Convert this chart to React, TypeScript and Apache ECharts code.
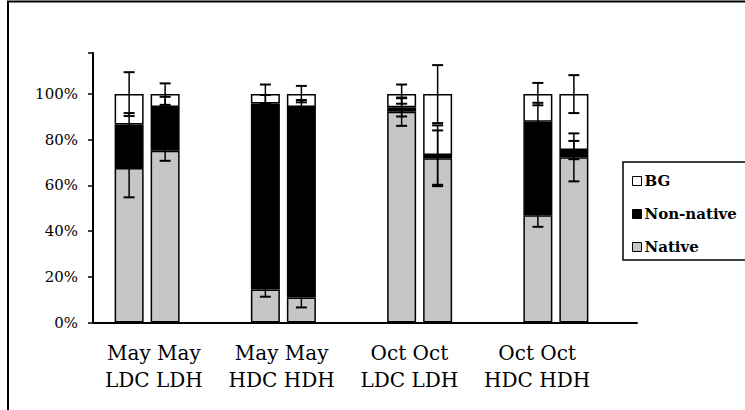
import React, { useEffect, useRef } from "react";
import * as echarts from "echarts";

const groupLabels = ["May May\nLDC LDH", "May May\nHDC HDH", "Oct Oct\nLDC LDH", "Oct Oct\nHDC HDH"];
const barNames = ["May LDC", "May LDH", "May HDC", "May HDH", "Oct LDC", "Oct LDH", "Oct HDC", "Oct HDH"];
const nativeVals = [67.7, 75.2, 14.5, 11.0, 92.3, 71.9, 47.0, 72.3];
const nonNativeVals = [19.0, 19.2, 81.4, 83.4, 1.9, 1.4, 40.9, 3.2];
const bgVals = [13.3, 5.6, 4.1, 5.6, 5.8, 26.7, 12.1, 24.5];
const nativeErr = [12.9, 4.4, 3.2, 4.4, 6.2, 12.2, 5.1, 10.5];
const nonNativeErr = [5.0, 4.4, 3.7, 3.0, 4.0, 13.0, 8.3, 4.0];
const bgErr = [9.6, 4.7, 4.2, 3.6, 4.2, 12.7, 4.9, 8.3];
const yTicks = [0, 20, 40, 60, 80, 100];

const BAR_W = 29;
const BAR_GAP = 7;
const FONT = "'DejaVu Serif', serif";

export default function App() {
  const ref = useRef<HTMLDivElement>(null);
  useEffect(() => {
    if (!ref.current) return;
    const chart = echarts.init(ref.current, null, { renderer: "svg" });
    const even = (a: number[]) => a.filter((_, i) => i % 2 === 0);
    const odd = (a: number[]) => a.filter((_, i) => i % 2 === 1);
    const groupIdx = [0, 1, 2, 3];

    const errData: number[][] = [];
    barNames.forEach((_, i) => {
      const g = Math.floor(i / 2);
      const side = i % 2;
      const t1 = nativeVals[i];
      const t2 = t1 + nonNativeVals[i];
      const t3 = t2 + bgVals[i];
      errData.push([g, side, t1, nativeErr[i]]);
      errData.push([g, side, t2, nonNativeErr[i]]);
      errData.push([g, side, t3, bgErr[i]]);
    });

    const barStyle = (color: string) => ({ color, borderColor: "#000", borderWidth: 1.5 });
    const mk = (name: string, stack: string, data: number[], color: string) => ({
      type: "bar",
      name,
      stack,
      xAxisIndex: 1,
      yAxisIndex: 1,
      barWidth: BAR_W,
      barGap: (BAR_GAP / BAR_W) * 100 + "%",
      data,
      z: 2,
      itemStyle: barStyle(color),
    });

    const NATIVE = "#c6c6c6";
    chart.setOption({
      animation: false,
      graphic: [
        {
          type: "rect",
          shape: { x: 8, y: 1.5, width: 800, height: 500 },
          style: { fill: "none", stroke: "#000", lineWidth: 2 },
          silent: true,
        },
      ],
      grid: [
        { left: 93, top: 53, width: 544, height: 269.5 },
        { left: 79, top: 53, width: 545, height: 269.5 },
        { left: 90, top: 53, width: 511, height: 269.5 },
      ],
      xAxis: [
        {
          gridIndex: 0,
          type: "value",
          min: 0,
          max: 1,
          axisLine: { show: true, lineStyle: { color: "#000", width: 2 } },
          axisTick: { show: false },
          axisLabel: { show: false },
          splitLine: { show: false },
        },
        {
          gridIndex: 1,
          type: "category",
          data: groupIdx.map(String),
          axisLine: { show: false },
          axisTick: { show: false },
          axisLabel: { show: false },
        },
        {
          gridIndex: 2,
          type: "category",
          data: groupLabels,
          axisLine: { show: false },
          axisTick: { show: false },
          axisLabel: {
            show: true,
            margin: 17,
            color: "#000",
            fontFamily: FONT,
            fontSize: 20,
            lineHeight: 27,
            interval: 0,
          },
        },
      ],
      yAxis: [
        {
          gridIndex: 0,
          type: "value",
          min: 0,
          max: 118,
          interval: 20,
          axisLine: { show: true, lineStyle: { color: "#000", width: 2 } },
          axisTick: { show: true, inside: false, length: 5, lineStyle: { color: "#000", width: 1.5 } },
          axisLabel: {
            margin: 15,
            color: "#000",
            fontFamily: FONT,
            fontSize: 15,
            formatter: (v: number) => (yTicks.indexOf(v) >= 0 ? v + "%" : ""),
          },
          splitLine: { show: false },
        },
        { gridIndex: 1, type: "value", min: 0, max: 118, show: false },
        { gridIndex: 2, type: "value", min: 0, max: 118, show: false },
      ],
      legend: {
        orient: "vertical",
        left: 623,
        top: 162,
        padding: [10, 40, 4, 9],
        itemGap: 15,
        itemWidth: 9,
        itemHeight: 9,
        icon: "rect",
        itemStyle: { borderColor: "#000", borderWidth: 1 },
        borderColor: "#000",
        borderWidth: 1.5,
        backgroundColor: "#fff",
        data: ["BG", "Non-native", "Native"],
        textStyle: { fontFamily: FONT, fontSize: 15, fontWeight: "bold", color: "#000", lineHeight: 18, padding: [0, 0, 0, -2] },
      },
      series: [
        mk("Native", "C", even(nativeVals), NATIVE),
        mk("Native", "H", odd(nativeVals), NATIVE),
        mk("Non-native", "C", even(nonNativeVals), "#000"),
        mk("Non-native", "H", odd(nonNativeVals), "#000"),
        mk("BG", "C", even(bgVals), "#fff"),
        mk("BG", "H", odd(bgVals), "#fff"),
        {
          type: "custom",
          xAxisIndex: 1,
          yAxisIndex: 1,
          silent: true,
          z: 10,
          encode: { x: 0, y: 2 },
          data: errData,
          renderItem: (params: any, api: any) => {
            const g = api.value(0);
            const side = api.value(1);
            const top = api.value(2);
            const err = api.value(3);
            const hi = api.coord([g, top + err]);
            const lo = api.coord([g, top - err]);
            const x = hi[0] + (side === 0 ? -1 : 1) * ((BAR_W + BAR_GAP) / 2);
            const stroke = { stroke: "#000", lineWidth: 2 };
            return {
              type: "group",
              children: [
                { type: "line", shape: { x1: x, y1: hi[1], x2: x, y2: lo[1] }, style: { stroke: "#000", lineWidth: 1.5 } },
                { type: "line", shape: { x1: x - 5.5, y1: hi[1], x2: x + 5.5, y2: hi[1] }, style: stroke },
                { type: "line", shape: { x1: x - 5.5, y1: lo[1], x2: x + 5.5, y2: lo[1] }, style: stroke },
              ],
            };
          },
        },
      ],
    });
    return () => chart.dispose();
  }, []);
  return <div ref={ref} style={{ position: "absolute", left: 0, top: 0, width: 745, height: 410, background: "#fff" }} />;
}
